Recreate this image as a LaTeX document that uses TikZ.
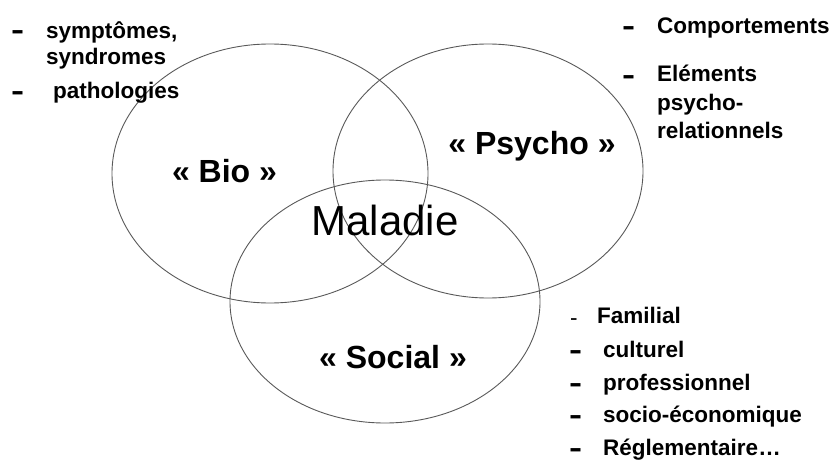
\documentclass[tikz,border=0pt]{standalone}
\usepackage{fontspec}
\setmainfont{Liberation Sans}
\usetikzlibrary{shapes.geometric}

\newcommand{\tiret}{\scalebox{1.4}[1]{-}}

\begin{document}
\begin{tikzpicture}[x = 1pt, y = -1pt,
            ring/.style = {ellipse, draw = black!65, line width = 0.9pt, inner sep = 0pt},
            item/.style = {anchor = base west, inner sep = 0pt, font = \fontsize{22.5}{27}\selectfont\bfseries},
            bullet/.style = {anchor = base west, inner sep = 0pt, font = \fontsize{28}{30}\selectfont\bfseries},
            field/.style = {anchor = base, inner sep = 0pt, font = \fontsize{32}{38}\selectfont\bfseries}]
            \useasboundingbox (0,0) rectangle (834,460);

            \node[ring, minimum width = 316, minimum height = 259] (bio) at (270,173.5) {};
            \node[ring, minimum width = 310, minimum height = 254] (psycho) at (488,171) {};
            \node[ring, minimum width = 310, minimum height = 243] (social) at (385,301.5) {};

            \node[field] (biolabel) at (224.5,182) {« Bio »};
            \node[field] (psycholabel) at (532,154) {« Psycho »};
            \node[field] (sociallabel) at (393,368) {« Social »};
            \node[anchor = base, inner sep = 0pt, font = \fontsize{42}{48}\selectfont] (maladie) at (385,235) {Maladie};

            \node[bullet] (b1) at (11,40) {\tiret};
            \node[item] (symptomes) at (46,39) {symptômes,};
            \node[item] (syndromes) at (46,64) {syndromes};
            \node[bullet] (b2) at (11,100) {\tiret};
            \node[item] (pathologies) at (53,98) {pathologies};

            \node[bullet] (p1) at (622,36) {\tiret};
            \node[item] (comportements) at (657,34) {Comportements};
            \node[bullet] (p2) at (622,84) {\tiret};
            \node[item] (elements) at (657,81) {Eléments};
            \node[item] (psychoword) at (657,110) {psycho-};
            \node[item] (relationnels) at (657,138) {relationnels};

            \node[anchor = base west, inner sep = 0pt, font = \fontsize{22.5}{27}\selectfont] (s1) at (570,325) {-};
            \node[item] (familial) at (597,323) {Familial};
            \node[bullet] (s2) at (569,359) {\tiret};
            \node[item] (culturel) at (603,357) {culturel};
            \node[bullet] (s3) at (569,392) {\tiret};
            \node[item] (professionnel) at (603,390) {professionnel};
            \node[bullet] (s4) at (569,424) {\tiret};
            \node[item] (socioeco) at (603,422) {socio-économique};
            \node[bullet] (s5) at (569,457) {\tiret};
            \node[item] (reglementaire) at (603,455) {Réglementaire…};
        \end{tikzpicture}
\end{document}
